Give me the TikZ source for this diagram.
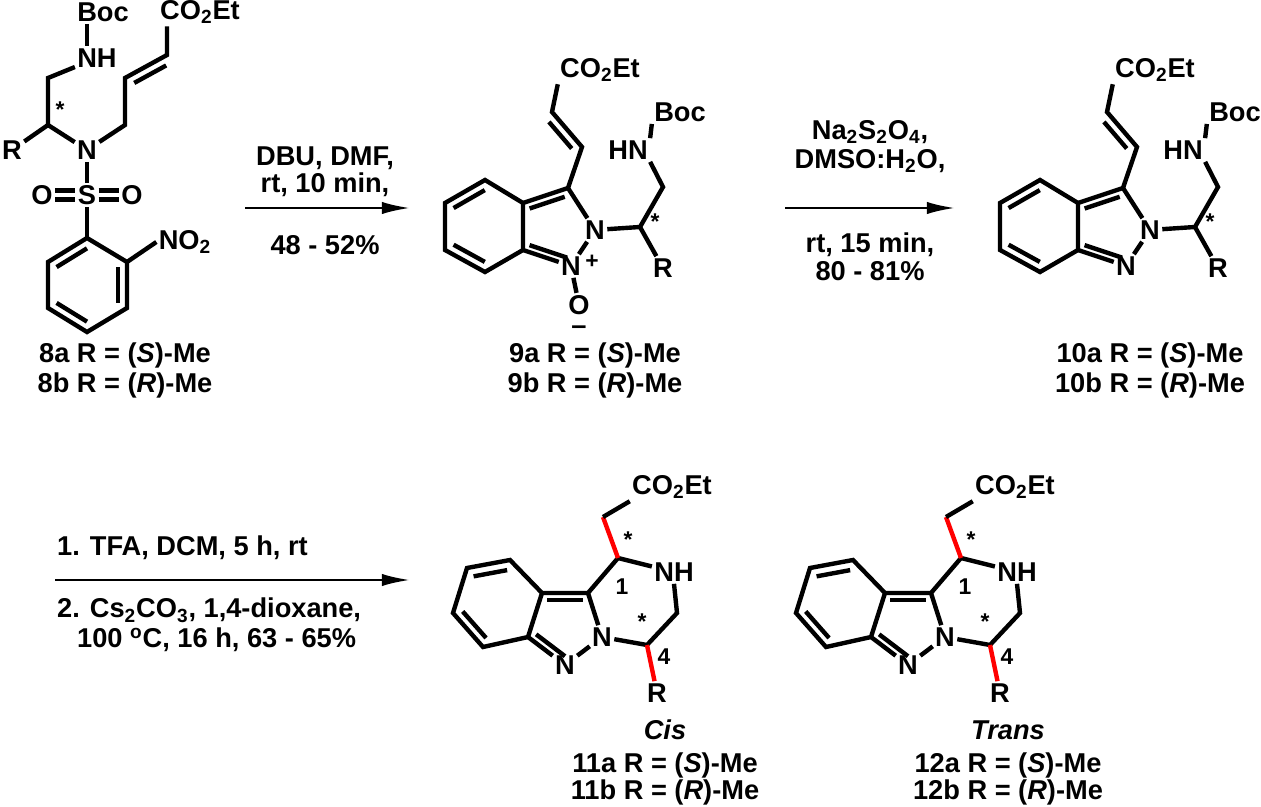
\documentclass[tikz,border=0pt]{standalone}
\usepackage{fontspec}
\setmainfont{Liberation Sans}
\usetikzlibrary{calc,arrows.meta}
\tikzset{
  bond/.style={line width=2.5pt},
  redbond/.style={line width=2.5pt, red},
  atom/.style={font=\fontsize{15.5}{18}\selectfont\bfseries, inner sep=1.2pt},
  txt/.style={font=\fontsize{15.5}{18}\selectfont\bfseries, inner sep=1pt},
  star/.style={font=\fontsize{13}{15}\selectfont\bfseries, inner sep=0pt},
  rxn/.style={line width=1.4pt, -{Latex[length=16pt,width=7pt]}},
}
\newcommand{\ringdbl}[3]{\draw[bond] ($(#1)!0.22!(#3)$) -- ($(#2)!0.22!(#3)$);}
\newcommand{\sidedbl}[3]{\draw[bond] ($(#1)!0.12!(#2)!5pt!#3:(#2)$) -- ($(#2)!0.12!(#1)!5pt!-#3:(#1)$);}
\begin{document}
\begin{tikzpicture}[x=0.02cm, y=-0.02cm]
\useasboundingbox (0,0) rectangle (1261,807);
% 8a/8b
\coordinate (a-c1) at (48,78);
\coordinate (a-cs) at (48,125);
\coordinate (a-c2) at (125,125);
\coordinate (a-c3) at (125,78);
\coordinate (a-c4) at (167,55);
\coordinate (a-r1) at (87,238);
\coordinate (a-r2) at (127,262);
\coordinate (a-r3) at (127,308);
\coordinate (a-r4) at (87,332);
\coordinate (a-r5) at (48,308);
\coordinate (a-r6) at (48,262);
\coordinate (a-rc) at (87,285);
\node[atom] (a-boc) at (103,12) {Boc};
\node[atom] (a-nh) at (97,58) {NH};
\node[atom] (a-n) at (87,150) {N};
\node[atom] (a-r) at (12,150) {R};
\node[atom] (a-s) at (87,195) {S};
\node[atom] (a-o1) at (42,195) {O};
\node[atom] (a-o2) at (132,195) {O};
\node[atom] (a-co) at (200,12) {CO\textsubscript{2}Et};
\node[atom] (a-no) at (185,242) {NO\textsubscript{2}};
\node[star] (a-st) at (60,110) {*};
\draw[bond] (a-boc.south -| a-n) -- (a-nh.north -| a-n);
\draw[bond] (a-nh) -- (a-c1) -- (a-cs) -- (a-n) -- (a-c2) -- (a-c3) -- (a-c4) -- (a-co.south -| a-c4);
\draw[bond] (a-cs) -- (a-r);
\sidedbl{a-c3}{a-c4}{-90}
\draw[bond] (a-n) -- (a-s) -- (a-r1);
\draw[bond] ([yshift=2.5pt]a-o1.east) -- ([yshift=2.5pt]a-s.west);
\draw[bond] ([yshift=-2.5pt]a-o1.east) -- ([yshift=-2.5pt]a-s.west);
\draw[bond] ([yshift=2.5pt]a-s.east) -- ([yshift=2.5pt]a-o2.west);
\draw[bond] ([yshift=-2.5pt]a-s.east) -- ([yshift=-2.5pt]a-o2.west);
\draw[bond] (a-r1) -- (a-r2) -- (a-r3) -- (a-r4) -- (a-r5) -- (a-r6) -- cycle;
\ringdbl{a-r1}{a-r6}{a-rc}
\ringdbl{a-r2}{a-r3}{a-rc}
\ringdbl{a-r4}{a-r5}{a-rc}
\draw[bond] (a-r2) -- (a-no.west);
\node[txt] (a-lab1) at (125,355) {8a R = (\textit{S})-Me};
\node[txt] (a-lab2) at (125,385) {8b R = (\textit{R})-Me};
% arrow 1
\coordinate (ar1s) at (245,208);
\coordinate (ar1e) at (410,208);
\draw[rxn] (ar1s) -- (ar1e);
\node[txt] (ar1t1) at (325,158) {DBU, DMF,};
\node[txt] (ar1t2) at (325,185) {rt, 10 min,};
\node[txt] (ar1t3) at (325,245) {48 - 52\%};
% 9a/9b
\coordinate (b-c3a) at (523,203);
\coordinate (b-c4) at (485,180);
\coordinate (b-c5) at (445,203);
\coordinate (b-c6) at (445,250);
\coordinate (b-c7) at (485,272);
\coordinate (b-c7a) at (523,250);
\coordinate (b-c3) at (568,188);
\coordinate (b-va) at (582,147);
\coordinate (b-vb) at (552,112);
\coordinate (b-bc) at (484,226);
\coordinate (b-pc) at (553,228);
\coordinate (b-cs) at (640,227);
\coordinate (b-ch) at (663,187);
\node[atom] (b-n2) at (595,230) {N};
\node[atom] (b-n1) at (571,266) {N};
\node[star] (b-plus) at (592,262) {+};
\node[atom] (b-o) at (579,305) {O};
\node[atom, inner sep=0pt] (b-minus) at (579,330) {--};
\node[atom] (b-co) at (600,70) {CO\textsubscript{2}Et};
\node[atom] (b-hn) at (628,150) {HN};
\node[atom] (b-boc) at (680,112) {Boc};
\node[atom] (b-r) at (663,268) {R};
\node[star] (b-st) at (655,222) {*};
\draw[bond] (b-c3a) -- (b-c4) -- (b-c5) -- (b-c6) -- (b-c7) -- (b-c7a) -- cycle;
\draw[bond] (b-c3a) -- (b-c3) -- (b-n2) -- (b-n1) -- (b-c7a);
\draw[bond] (b-n1) -- (b-o);
\draw[bond] (b-n2) -- (b-cs) -- (b-ch) -- (b-hn.south east);
\draw[bond] (b-hn.north east) -- (b-boc.south west);
\draw[bond] (b-cs) -- (b-r);
\draw[bond] (b-c3) -- (b-va) -- (b-vb) -- (b-co.south west);
\sidedbl{b-va}{b-vb}{90}
\ringdbl{b-c4}{b-c5}{b-bc}
\ringdbl{b-c6}{b-c7}{b-bc}
\ringdbl{b-c3a}{b-c3}{b-pc}
\ringdbl{b-c7a}{b-n1}{b-pc}
\node[txt] (b-lab1) at (595,355) {9a R = (\textit{S})-Me};
\node[txt] (b-lab2) at (595,385) {9b R = (\textit{R})-Me};
% arrow 2
\coordinate (ar2s) at (785,208);
\coordinate (ar2e) at (955,208);
\draw[rxn] (ar2s) -- (ar2e);
\node[txt] (ar2t1) at (870,132) {Na\textsubscript{2}S\textsubscript{2}O\textsubscript{4},};
\node[txt] (ar2t2) at (870,161) {DMSO:H\textsubscript{2}O,};
\node[txt] (ar2t3) at (870,245) {rt, 15 min,};
\node[txt] (ar2t4) at (870,271) {80 - 81\%};
% 10a/10b
\begin{scope}[shift={(555,0)}]
\coordinate (c-c3a) at (523,203);
\coordinate (c-c4) at (485,180);
\coordinate (c-c5) at (445,203);
\coordinate (c-c6) at (445,250);
\coordinate (c-c7) at (485,272);
\coordinate (c-c7a) at (523,250);
\coordinate (c-c3) at (568,188);
\coordinate (c-va) at (582,147);
\coordinate (c-vb) at (552,112);
\coordinate (c-bc) at (484,226);
\coordinate (c-pc) at (553,228);
\coordinate (c-cs) at (640,227);
\coordinate (c-ch) at (663,187);
\node[atom] (c-n2) at (595,230) {N};
\node[atom] (c-n1) at (571,266) {N};
\node[atom] (c-co) at (600,70) {CO\textsubscript{2}Et};
\node[atom] (c-hn) at (628,150) {HN};
\node[atom] (c-boc) at (680,112) {Boc};
\node[atom] (c-r) at (663,268) {R};
\node[star] (c-st) at (655,222) {*};
\draw[bond] (c-c3a) -- (c-c4) -- (c-c5) -- (c-c6) -- (c-c7) -- (c-c7a) -- cycle;
\draw[bond] (c-c3a) -- (c-c3) -- (c-n2) -- (c-n1) -- (c-c7a);
\draw[bond] (c-n2) -- (c-cs) -- (c-ch) -- (c-hn.south east);
\draw[bond] (c-hn.north east) -- (c-boc.south west);
\draw[bond] (c-cs) -- (c-r);
\draw[bond] (c-c3) -- (c-va) -- (c-vb) -- (c-co.south west);
\sidedbl{c-va}{c-vb}{90}
\ringdbl{c-c4}{c-c5}{c-bc}
\ringdbl{c-c6}{c-c7}{c-bc}
\ringdbl{c-c3a}{c-c3}{c-pc}
\ringdbl{c-c7a}{c-n1}{c-pc}
\node[txt] (c-lab1) at (595,355) {10a R = (\textit{S})-Me};
\node[txt] (c-lab2) at (595,385) {10b R = (\textit{R})-Me};
\end{scope}
% arrow 3
\coordinate (ar3s) at (55,580);
\coordinate (ar3e) at (410,580);
\draw[rxn] (ar3s) -- (ar3e);
\node[txt, anchor=west] (ar3t1) at (55,548) {1. TFA, DCM, 5 h, rt};
\node[txt, anchor=west] (ar3t2) at (55,610) {2. Cs\textsubscript{2}CO\textsubscript{3}, 1,4-dioxane,};
\node[txt, anchor=west] (ar3t3) at (75,640) {100 \textsuperscript{o}C, 16 h, 63 - 65\%};
% 11 and 12
\foreach \p/\dx/\nm/\tag in {d/0/11/Cis, e/343/12/Trans} {
\begin{scope}[shift={(\dx,0)}]
\coordinate (\p-c3a) at (542,593);
\coordinate (\p-c4) at (510,560);
\coordinate (\p-c5) at (467,568);
\coordinate (\p-c6) at (453,613);
\coordinate (\p-c7) at (483,647);
\coordinate (\p-c7a) at (528,637);
\coordinate (\p-c3) at (588,593);
\coordinate (\p-c1) at (618,558);
\coordinate (\p-ch) at (603,517);
\coordinate (\p-cn) at (677,613);
\coordinate (\p-c4p) at (647,645);
\coordinate (\p-bc) at (497,606);
\coordinate (\p-pc) at (565,625);
\node[atom] (\p-n) at (602,637) {N};
\node[atom] (\p-n2) at (565,665) {N};
\node[atom] (\p-nh) at (674,572) {NH};
\node[atom] (\p-co) at (672,487) {CO\textsubscript{2}Et};
\node[atom] (\p-r) at (657,693) {R};
\node[star] (\p-one) at (622,587) {1};
\node[star] (\p-four) at (664,657) {4};
\node[star] (\p-st1) at (628,540) {*};
\node[star] (\p-st2) at (642,622) {*};
\draw[bond] (\p-c3a) -- (\p-c4) -- (\p-c5) -- (\p-c6) -- (\p-c7) -- (\p-c7a) -- cycle;
\draw[bond] (\p-c3a) -- (\p-c3) -- (\p-n) -- (\p-n2) -- (\p-c7a);
\draw[bond] (\p-c3) -- (\p-c1) -- (\p-nh);
\draw[bond] (\p-nh.south) -- (\p-cn) -- (\p-c4p) -- (\p-n);
\draw[redbond] (\p-c4p) -- (\p-r);
\draw[redbond] (\p-c1) -- (\p-ch);
\draw[bond] (\p-ch) -- (\p-co.south west);
\ringdbl{\p-c4}{\p-c5}{\p-bc}
\ringdbl{\p-c6}{\p-c7}{\p-bc}
\ringdbl{\p-c3a}{\p-c3}{\p-pc}
\ringdbl{\p-c7a}{\p-n2}{\p-pc}
\node[txt] (\p-tag) at (665,730) {\textit{\tag}};
\node[txt] (\p-lab1) at (665,765) {\nm a R = (\textit{S})-Me};
\node[txt] (\p-lab2) at (665,792) {\nm b R = (\textit{R})-Me};
\end{scope}
}
\end{tikzpicture}
\end{document}
